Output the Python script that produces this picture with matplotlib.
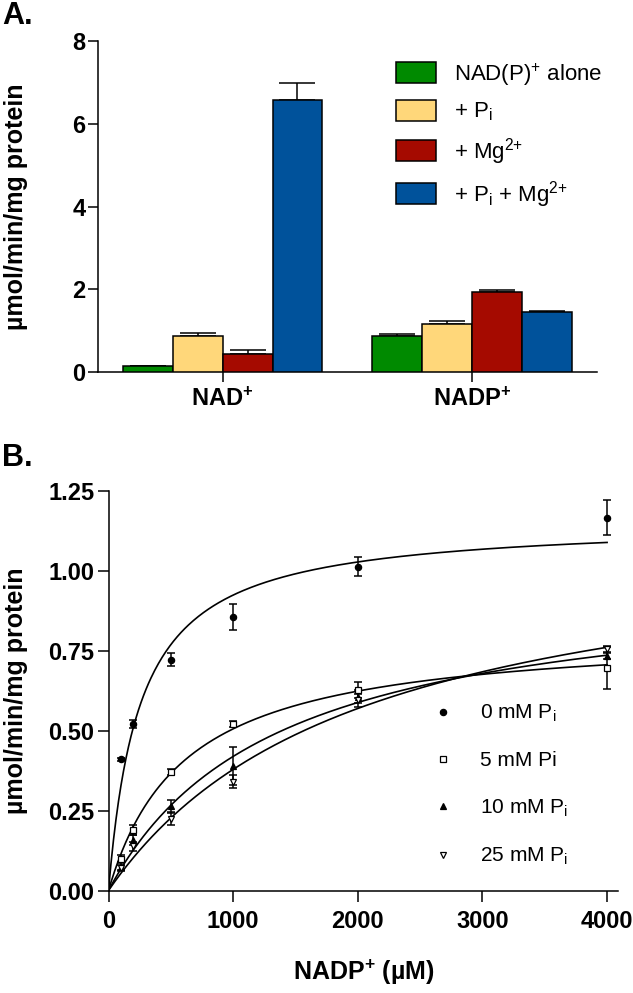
import numpy as np
import matplotlib
matplotlib.use("Agg")
import matplotlib.pyplot as plt
from matplotlib.patches import Patch
from matplotlib.lines import Line2D

plt.rcParams['font.family'] = ['Liberation Sans', 'DejaVu Sans']
plt.rcParams['mathtext.default'] = 'regular'
plt.rcParams['axes.linewidth'] = 1.1

# ---- panel A data ----
cofactors = ['NAD$^{+}$', 'NADP$^{+}$']
conditions = ['NAD(P)$^{+}$ alone', '+ P$_{i}$', '+ Mg$^{2{+}}$', '+ P$_{i}$ + Mg$^{2{+}}$']
bar_colors = ['#008a00', '#ffd77a', '#a50a00', '#00529b']
alone = [0.15, 0.87]
pi_only = [0.88, 1.17]
mg_only = [0.44, 1.94]
pi_mg = [6.58, 1.455]
alone_err = [0.01, 0.06]
pi_only_err = [0.06, 0.06]
mg_only_err = [0.10, 0.05]
pi_mg_err = [0.40, 0.03]

# ---- panel B data ----
nadp_um = np.array([100, 200, 500, 1000, 2000, 4000])
pi0 = np.array([0.41, 0.52, 0.722, 0.855, 1.012, 1.165])
pi5 = np.array([0.10, 0.19, 0.37, 0.52, 0.628, 0.695])
pi10 = np.array([0.075, 0.158, 0.263, 0.39, 0.606, 0.733])
pi25 = np.array([0.07, 0.138, 0.225, 0.34, 0.595, 0.755])
pi0_err = [0.005, 0.012, 0.02, 0.04, 0.03, 0.055]
pi5_err = [0.01, 0.015, 0.01, 0.01, 0.025, 0.065]
pi10_err = [0.01, 0.015, 0.02, 0.06, 0.02, 0.01]
pi25_err = [0.01, 0.015, 0.02, 0.02, 0.02, 0.01]
series_labels = ['0 mM P$_{i}$', '5 mM Pi', '10 mM P$_{i}$', '25 mM P$_{i}$']


def mm_fit(s, v):
    # least squares Michaelis-Menten fit (Km grid, Vmax closed form)
    best = None
    for km in np.linspace(10, 5000, 5000):
        f = s / (km + s)
        vm = (v @ f) / (f @ f)
        sse = ((v - vm * f) ** 2).sum()
        if best is None or sse < best[0]:
            best = (sse, vm, km)
    return best[1], best[2]


W, H = 633, 993
fig = plt.figure(figsize=(W / 100, H / 100), dpi=100)

# ================= panel A =================
ax1 = fig.add_axes([98 / W, 1 - 372.3 / H, (596.7 - 98) / W, (372.3 - 41) / H])
x = np.arange(len(cofactors))
width = 0.2
vals = [alone, pi_only, mg_only, pi_mg]
errs = [alone_err, pi_only_err, mg_only_err, pi_mg_err]
for i, (v, e, c) in enumerate(zip(vals, errs, bar_colors)):
    pos = x + (i - 1.5) * width
    ax1.errorbar(pos, v, yerr=[np.zeros(2), e], fmt='none', ecolor='black',
                 elinewidth=1.1, capsize=13, capthick=1.1, zorder=2)
    ax1.bar(pos, v, width, color=c, edgecolor='black', linewidth=1.1, zorder=3)

ax1.set_xlim(-0.5, 1.5)
ax1.set_ylim(0, 8)
ax1.set_yticks([0, 2, 4, 6, 8])
ax1.set_xticks(x)
ax1.set_xticklabels(cofactors, fontsize=17, fontweight='bold')
for t in ax1.get_yticklabels():
    t.set_fontsize(17)
    t.set_fontweight('bold')
ax1.spines['top'].set_visible(False)
ax1.spines['right'].set_visible(False)
ax1.tick_params(length=7, width=1.1, pad=2)
ax1.tick_params(axis='x', pad=4)
ax1.set_ylabel('µmol/min/mg protein', fontsize=18, fontweight='bold')
ax1.yaxis.set_label_coords(-(98 - 4) / 498.7, 0.5)
ax1.yaxis.label.set_verticalalignment('top')

handles = [Patch(facecolor=c, edgecolor='black', linewidth=1.1) for c in bar_colors]
fig.legend(handles, conditions, loc='upper left',
           bbox_to_anchor=(396 / W, 1 - 61 / H), bbox_transform=fig.transFigure,
           frameon=False, fontsize=16, borderpad=0, borderaxespad=0,
           handlelength=1.8, handleheight=1.08, handletextpad=0.8,
           labelspacing=0.55)

fig.text(2 / W, 1 - 16 / H, 'A.', fontsize=22, fontweight='bold', va='center', ha='left')

# ================= panel B =================
ax2 = fig.add_axes([108.5 / W, 1 - 890.5 / H, (618.3 - 108.5) / W, (890.5 - 490.7) / H])
markers = [dict(marker='o', mfc='black', ms=4.5),
           dict(marker='s', mfc='white', ms=5),
           dict(marker='^', mfc='black', ms=4),
           dict(marker='v', mfc='white', ms=5)]
curve_x = np.linspace(0, 4000, 400)
for ys, es, mk in zip([pi0, pi5, pi10, pi25], [pi0_err, pi5_err, pi10_err, pi25_err], markers):
    vmax, km = mm_fit(nadp_um, ys)
    ax2.plot(curve_x, vmax * curve_x / (km + curve_x), color='black', lw=1.2, zorder=2)
    ax2.errorbar(nadp_um, ys, yerr=es, fmt='none', ecolor='black', elinewidth=1.1,
                 capsize=3, capthick=1.1, zorder=3)
    ax2.plot(nadp_um, ys, linestyle='none', color='black', mec='black', mew=0.9,
             zorder=4, **mk)

ax2.set_xlim(0, 4090)
ax2.set_ylim(0, 1.25)
ax2.set_xticks([0, 1000, 2000, 3000, 4000])
ax2.set_yticks([0, 0.25, 0.5, 0.75, 1.0, 1.25])
ax2.set_yticklabels(['0.00', '0.25', '0.50', '0.75', '1.00', '1.25'])
for t in ax2.get_xticklabels() + ax2.get_yticklabels():
    t.set_fontsize(17)
    t.set_fontweight('bold')
ax2.spines['top'].set_visible(False)
ax2.spines['right'].set_visible(False)
ax2.tick_params(length=8, width=1.1, pad=2)
ax2.tick_params(axis='x', pad=6)
ax2.set_ylabel('µmol/min/mg protein', fontsize=18, fontweight='bold')
ax2.yaxis.set_label_coords(-(108.5 - 4) / 509.8, 0.5)
ax2.yaxis.label.set_verticalalignment('top')
ax2.set_xlabel('NADP$^{+}$ (µM)', fontsize=18, fontweight='bold')
ax2.xaxis.set_label_coords(0.5, -(958 - 890.5) / 399.8)

leg_handles = [Line2D([], [], linestyle='none', color='black', mec='black', mew=0.9, **mk)
               for mk in markers]
fig.legend(leg_handles, series_labels, loc='upper left',
           bbox_to_anchor=(432.6 / W, 1 - 703 / H), bbox_transform=fig.transFigure,
           frameon=False, fontsize=15, borderpad=0, borderaxespad=0,
           handlelength=1.0, handletextpad=1.28, labelspacing=1.3)

fig.text(2 / W, 1 - 458 / H, 'B.', fontsize=22, fontweight='bold', va='center', ha='left')

fig.savefig('out.png', dpi=100)
